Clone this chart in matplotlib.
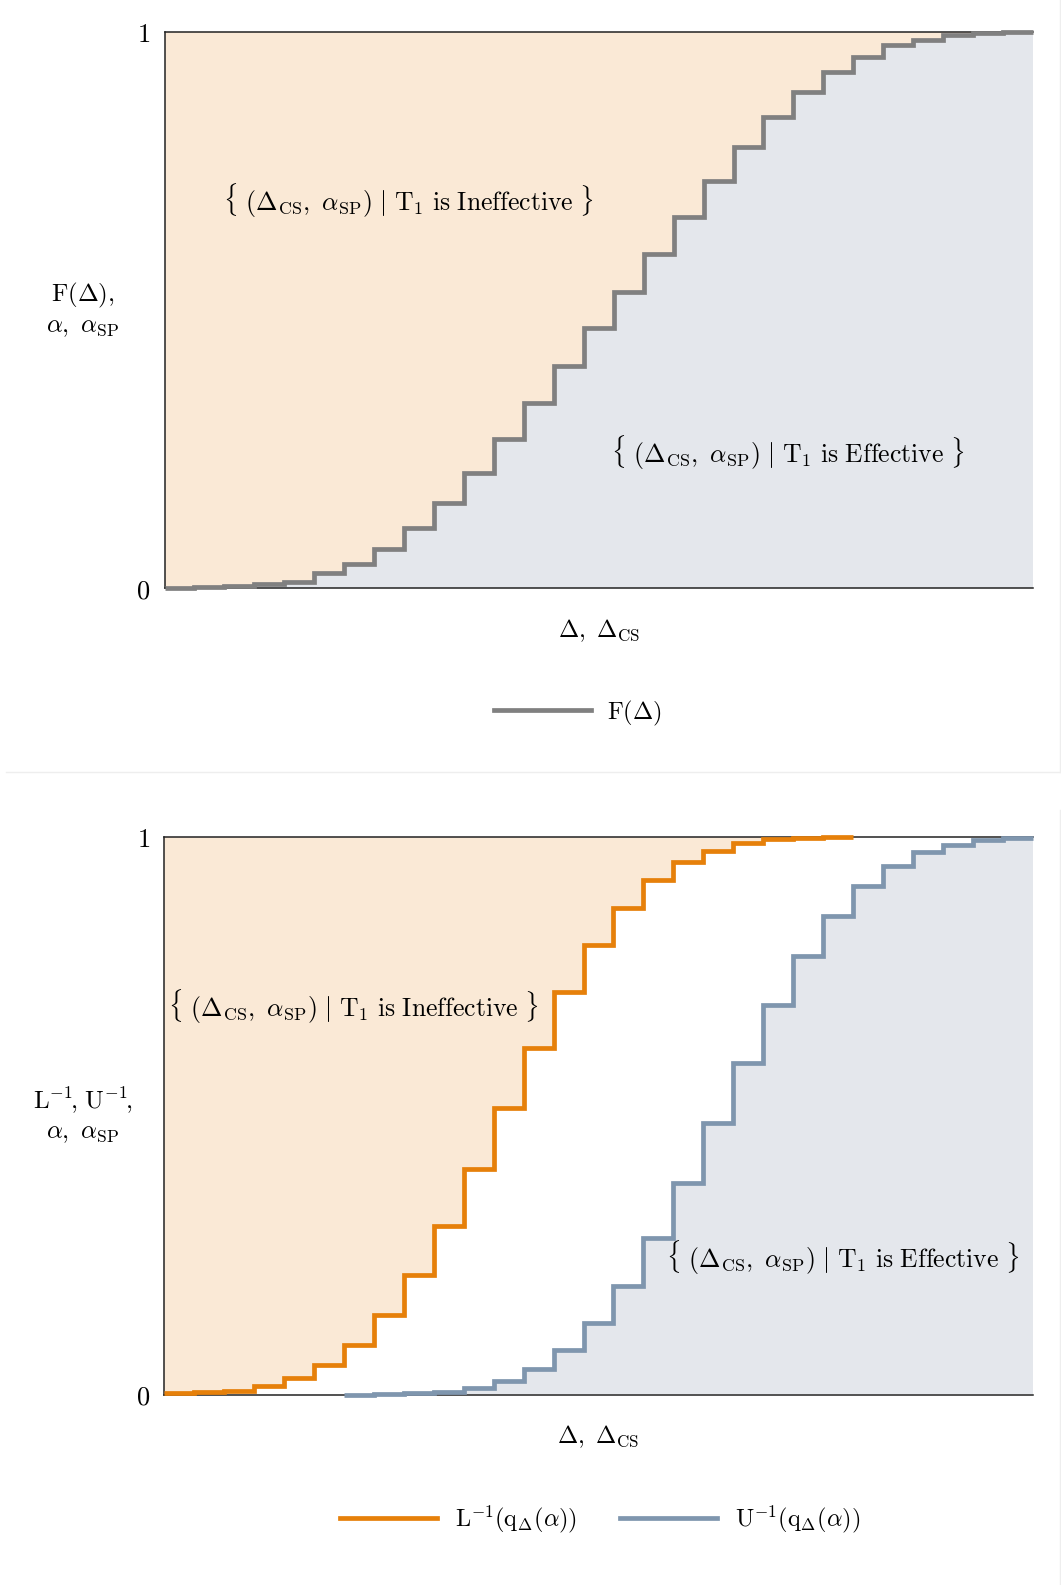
import numpy as np
import matplotlib
matplotlib.use('Agg')
import matplotlib.pyplot as plt
from matplotlib.lines import Line2D

plt.rcParams['mathtext.fontset'] = 'cm'
plt.rcParams['font.family'] = ['DejaVu Serif']

# step levels of the empirical CDF F(Delta) on 29 equal bins
f_edges = np.arange(0, 30)
f_levels = [0.000, 0.001, 0.004, 0.007, 0.011, 0.027, 0.043, 0.070, 0.108, 0.153,
            0.207, 0.268, 0.332, 0.399, 0.467, 0.532, 0.600, 0.666, 0.731, 0.792,
            0.846, 0.892, 0.928, 0.954, 0.975, 0.985, 0.993, 0.998, 0.999]

# lower / upper bound inverses
l_edges = np.arange(0, 24)
l_levels = [0.002, 0.004, 0.007, 0.015, 0.030, 0.053, 0.089, 0.143, 0.214, 0.302,
            0.405, 0.514, 0.622, 0.721, 0.806, 0.873, 0.922, 0.955, 0.975, 0.988,
            0.995, 0.998, 1.000]
u_edges = np.arange(6, 30)
u_levels = [0.000, 0.001, 0.002, 0.005, 0.011, 0.025, 0.045, 0.079, 0.128, 0.195,
            0.281, 0.380, 0.487, 0.595, 0.698, 0.787, 0.858, 0.912, 0.948, 0.972,
            0.986, 0.994, 0.997]

PEACH = '#fae9d6'
SLATE = '#e4e7ec'
GREY = '#808080'
ORANGE = '#e6800a'
BLUE = '#7f96ae'
FS = 17.5
FS_NOTE = 18.5
LW = 3.4

W, H = 1061, 1585
fig = plt.figure(figsize=(W / 100, H / 100), dpi=100)


def px_axes(left, top, right, bottom):
    return fig.add_axes([left / W, 1 - bottom / H, (right - left) / W, (bottom - top) / H])


def style(ax, ylabel):
    ax.set_xlim(0, 29)
    ax.set_ylim(0, 1)
    ax.set_xticks([])
    ax.set_yticks([0, 1])
    ax.set_yticklabels(['$0$', '$1$'])
    ax.tick_params(axis='y', length=0, pad=10, labelsize=FS + 1.5)
    ax.spines['right'].set_visible(False)
    for s in ('left', 'top', 'bottom'):
        ax.spines[s].set_color('#222222')
        ax.spines[s].set_linewidth(1.1)
        ax.spines[s].set_zorder(3)
    ax.set_xlabel(r'$\Delta,\ \Delta_{\rm CS}$', fontsize=FS, labelpad=21)
    ax.set_ylabel(ylabel, fontsize=FS + 0.5, rotation=0, ha='center', va='center',
                  multialignment='center', linespacing=1.25)
    ax.yaxis.set_label_coords(-0.094, 0.5)


def ext(levels):
    return list(levels) + [levels[-1]]


ineff = r'$\{\ (\Delta_{\rm CS},\ \alpha_{\rm SP})\ |\ {\rm T}_1\ {\rm is\ Ineffective}\ \}$'
eff = r'$\{\ (\Delta_{\rm CS},\ \alpha_{\rm SP})\ |\ {\rm T}_1\ {\rm is\ Effective}\ \}$'

# top panel: single CDF
ax1 = px_axes(164.5, 31.5, 1033, 588)
ax1.fill_between(f_edges, ext(f_levels), 1, step='post', color=PEACH, lw=0)
ax1.fill_between(f_edges, 0, ext(f_levels), step='post', color=SLATE, lw=0)
ax1.stairs(f_levels, f_edges, color=GREY, lw=LW, baseline=None, clip_on=False, zorder=4)
ax1.text(0.281, 0.695, ineff, transform=ax1.transAxes, ha='center', va='center', fontsize=FS_NOTE)
ax1.text(0.718, 0.242, eff, transform=ax1.transAxes, ha='center', va='center', fontsize=FS_NOTE)
style(ax1, '$\\mathrm{F}(\\Delta),$\n$\\alpha,\\ \\alpha_{\\rm SP}$')
ax1.legend([Line2D([], [], color=GREY, lw=LW)], [r'$\mathrm{F}(\Delta)$'],
           loc='center', bbox_to_anchor=(578 / W, 1 - 713 / H),
           bbox_transform=fig.transFigure, frameon=False, fontsize=FS,
           handlelength=4.0, handletextpad=0.65)

# bottom panel: lower and upper bound
ax2 = px_axes(164, 836.7, 1033, 1394.5)
ax2.fill_between(l_edges, ext(l_levels), 1, step='post', color=PEACH, lw=0)
ax2.fill_between(u_edges, 0, ext(u_levels), step='post', color=SLATE, lw=0)
ax2.stairs(l_levels, l_edges, color=ORANGE, lw=LW, baseline=None, clip_on=False, zorder=4)
ax2.stairs(u_levels, u_edges, color=BLUE, lw=LW, baseline=None, clip_on=False, zorder=4)
ax2.text(0.218, 0.695, ineff, transform=ax2.transAxes, ha='center', va='center', fontsize=FS_NOTE)
ax2.text(0.781, 0.245, eff, transform=ax2.transAxes, ha='center', va='center', fontsize=FS_NOTE)
style(ax2, '$\\mathrm{L}^{-1}\\!,\\,\\mathrm{U}^{-1}\\!,$\n$\\alpha,\\ \\alpha_{\\rm SP}$')
ax2.legend([Line2D([], [], color=ORANGE, lw=LW), Line2D([], [], color=BLUE, lw=LW)],
           [r'$\mathrm{L}^{-1}(\mathrm{q}_{\Delta}(\alpha))$',
            r'$\mathrm{U}^{-1}(\mathrm{q}_{\Delta}(\alpha))$'],
           loc='center', bbox_to_anchor=(600 / W, 1 - 1519 / H),
           bbox_transform=fig.transFigure, frameon=False, fontsize=FS, ncol=2,
           handlelength=4.0, handletextpad=0.75, columnspacing=1.75)

# faint card borders around each panel
for xs, ys in [((6, 1060), (772, 772)), ((1060, 1060), (0, 772)), ((1060, 1060), (810, H))]:
    fig.add_artist(Line2D([x / W for x in xs], [1 - y / H for y in ys],
                          color='#eeeeee', lw=1, transform=fig.transFigure))

fig.savefig('out.png', dpi=100)
